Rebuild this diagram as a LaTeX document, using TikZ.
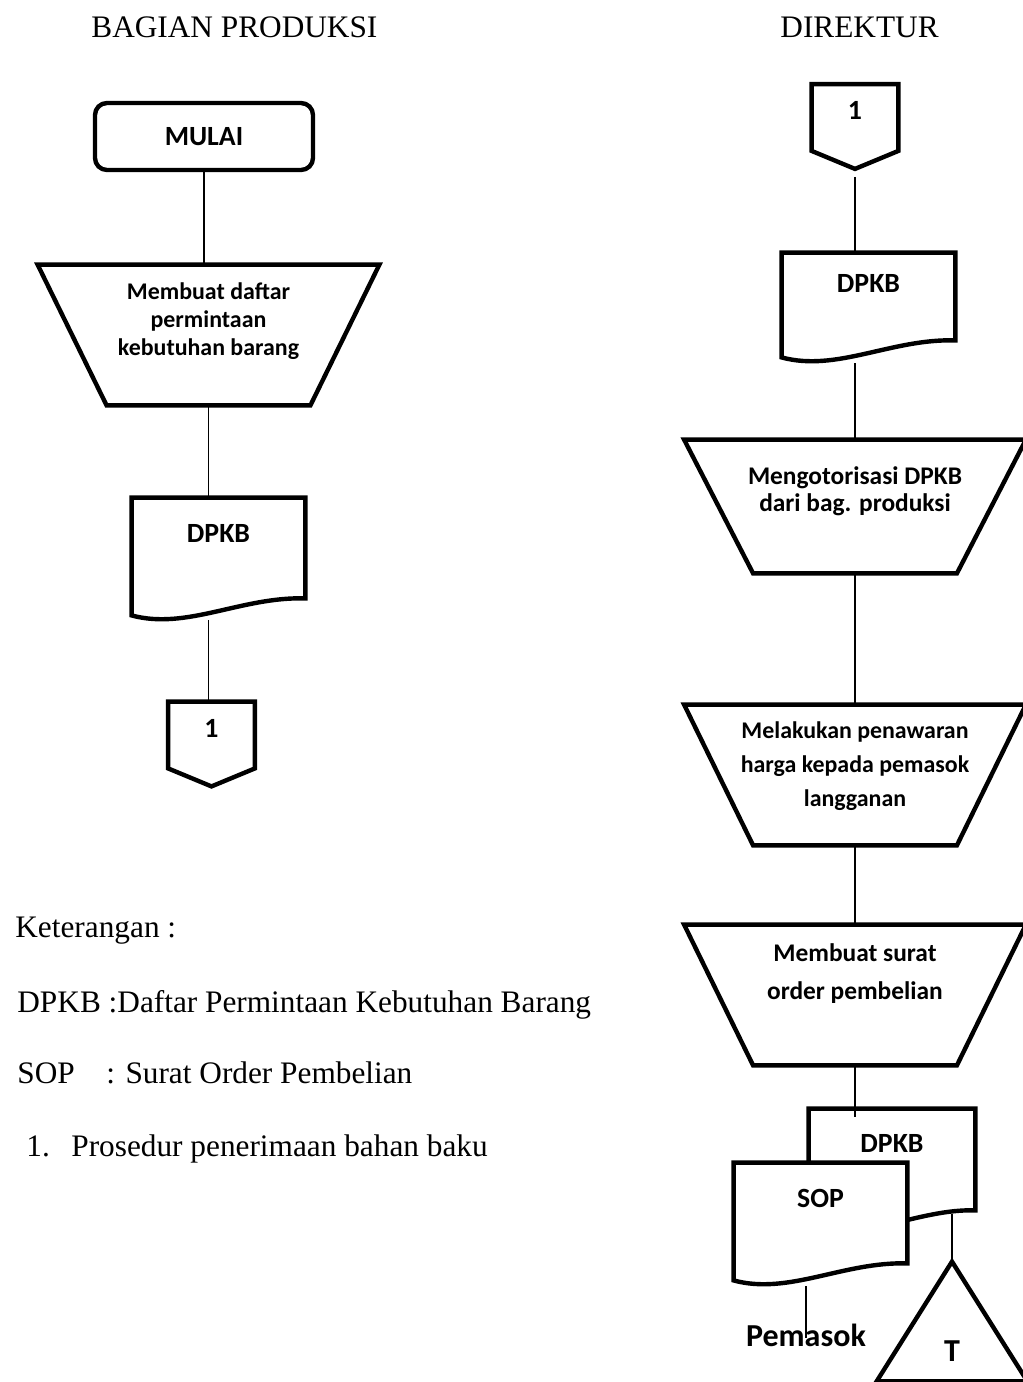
\documentclass[tikz,border=0pt]{standalone}
\usepackage{fontspec}
\setmainfont{Liberation Serif}
\newfontfamily\bagan{Carlito}
\usepackage{tikz}

\newcommand{\hurufbagan}[2]{\bagan\bfseries\fontsize{#1}{#2}\selectfont}
\newcommand{\gelombang}[1]{\draw[tepi] ([yshift=-8.5pt]#1.south west) -- (#1.north west) -- (#1.north east) -- (#1.south east) .. controls ([xshift=55pt,yshift=1pt]#1.south west) and ([xshift=27.5pt,yshift=-16pt]#1.south west) .. ([yshift=-8.5pt]#1.south west) -- cycle;}
\newcommand{\offpage}[1]{\draw[tepi] (#1.north west) -- (#1.north east) -- (#1.south east) -- ([yshift=-9pt]#1.south) -- (#1.south west) -- cycle;}

\begin{document}
\begin{tikzpicture}[x=0.5pt, y=-0.5pt]
    \tikzstyle{tepi} = [line width=2.2pt, line join=miter]
    \tikzstyle{garis} = [line width=0.65pt]
    \tikzstyle{judul} = [anchor=base west, inner sep=0pt, font=\fontsize{15.65}{18}\selectfont]
    \tikzstyle{mulai} = [draw, rectangle, rounded corners=6pt, line width=2.2pt, minimum width=109pt, minimum height=33.5pt, font=\hurufbagan{13.9}{16}]
    \tikzstyle{proses} = [rectangle, inner sep=0pt, minimum width=170.5pt, minimum height=70pt, align=center]
    \tikzstyle{dokumen} = [rectangle, inner sep=0pt, minimum width=86.5pt, minimum height=50pt, font=\hurufbagan{13.9}{16}]
    \tikzstyle{konektor} = [rectangle, inner sep=0pt, minimum width=43pt, minimum height=33pt, text depth=7pt, font=\hurufbagan{13.9}{16}]

    \useasboundingbox (0,0) rectangle (1023,1382);
    \fill[white] (0,0) rectangle (1023,1382);

    \node (bagprod) [judul] at (91,37) {BAGIAN PRODUKSI};
    \node (direktur) [judul] at (780,37) {DIREKTUR};

    \node (mulai) [mulai] at (204,136.5) {MULAI};
    \node (buat) [proses, text depth=16.1pt, font=\hurufbagan{11.95}{14}] at (208.5,335) {Membuat daftar\\permintaan\\kebutuhan barang};
    \node (dpkb1) [dokumen, text depth=15pt] at (218.5,548) {DPKB};
    \node (off1) [konektor] at (211.5,735) {1};

    \node (off2) [konektor] at (855,117.5) {1};
    \node (dpkb2) [dokumen, minimum height=43.5pt, text depth=13.5pt] at (868.5,296.5) {DPKB};
    \node (otor) [proses, minimum height=66.5pt, text depth=17.7pt, font=\hurufbagan{12.7}{13.5}] at (855,506.5) {Mengotorisasi DPKB\\dari bag. produksi};
    \node (tawar) [proses, text depth=11.1pt, font=\hurufbagan{11.95}{17}] at (855,775) {Melakukan penawaran\\harga kepada pemasok\\langganan};
    \node (order) [proses, text depth=23.7pt, font=\hurufbagan{12.7}{19}] at (855,995) {Membuat surat\\order pembelian};

    \node (dpkb3) [dokumen, minimum width=83pt, minimum height=50.5pt, text depth=16.5pt] at (892,1159.5) {DPKB};
    \gelombang{dpkb3}
    \node (sop) [dokumen, fill=white, text depth=15pt] at (820.5,1213) {SOP};
    \node (pemasok) [inner sep=0pt, font=\hurufbagan{16}{18}] at (806,1335) {Pemasok};
    \node (arsip) [rectangle, inner sep=0pt, minimum width=75pt, minimum height=59.5pt, text height=39.5pt, text depth=0pt, font=\hurufbagan{16}{18}] at (952,1321.5) {T};

    \draw[tepi] (arsip.north) -- (arsip.south east) -- (arsip.south west) -- cycle;
    \foreach \n in {buat, otor, tawar, order}
        \draw[tepi] (\n.north west) -- (\n.north east) -- ([xshift=-34.5pt]\n.south east) -- ([xshift=34.5pt]\n.south west) -- cycle;
    \gelombang{dpkb1}
    \gelombang{dpkb2}
    \gelombang{sop}
    \offpage{off1}
    \offpage{off2}

    \draw[garis] (mulai.south) -- (mulai.south |- buat.north);
    \draw[garis] (buat.south) -- (buat.south |- dpkb1.north);
    \draw[garis] ([yshift=-11pt]dpkb1.south -| buat.south) -- (buat.south |- off1.north);
    \draw[garis] ([yshift=-13pt]off2.south) -- (off2.south |- dpkb2.north);
    \draw[garis] ([yshift=-11.5pt]dpkb2.south -| off2.south) -- (otor.north);
    \draw[garis] (otor.south) -- (tawar.north);
    \draw[garis] (tawar.south) -- (order.north);
    \draw[garis] (order.south) -- ([yshift=-4pt]dpkb3.north -| order.south);
    \draw[garis] ([yshift=-2pt]dpkb3.south -| arsip.north) -- (arsip.north);
    \draw[garis] ([yshift=-11.5pt]sop.south -| pemasok.north) -- ([yshift=-1.5pt]pemasok.center);

    \node (ket) [judul] at (15,937) {Keterangan :};
    \node (ket1) [judul] at (17,1012) {DPKB :Daftar Permintaan Kebutuhan Barang};
    \node (ket2) [judul] at (17,1083) {\makebox[44.5pt][l]{SOP}: Surat Order Pembelian};
    \node (ket3) [judul] at (26,1156) {\makebox[22.5pt][l]{1.}Prosedur penerimaan bahan baku};
\end{tikzpicture}
\end{document}
